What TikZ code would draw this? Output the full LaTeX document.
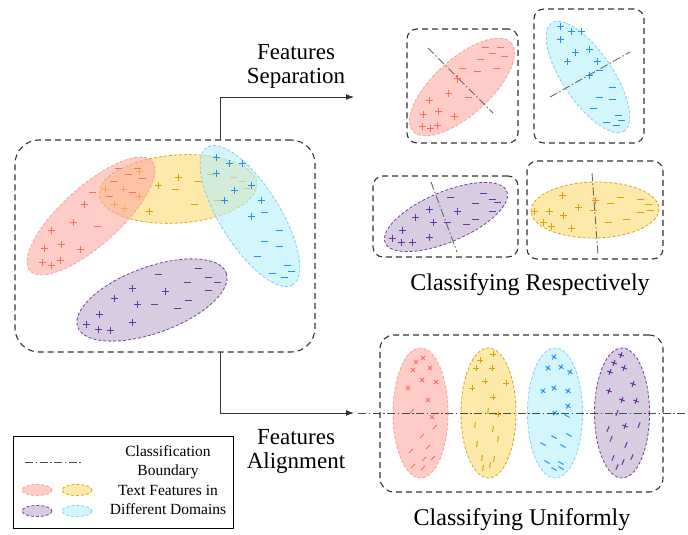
\documentclass[tikz,border=0pt]{standalone}
\usepackage{fontspec}
\setmainfont{Liberation Serif}
\usetikzlibrary{arrows.meta}
\definecolor{rF}{HTML}{FFAAA2}\definecolor{rS}{HTML}{F4A096}\definecolor{rM}{HTML}{FF6A5C}
\definecolor{yF}{HTML}{FCDA70}\definecolor{yS}{HTML}{D9A21A}\definecolor{yM}{HTML}{DDA000}
\definecolor{cF}{HTML}{B6EEFA}\definecolor{cS}{HTML}{80CFF0}\definecolor{cM}{HTML}{1E90EE}
\definecolor{pF}{HTML}{BEAACB}\definecolor{pS}{HTML}{7A3A9A}\definecolor{pM}{HTML}{7030A0}
\definecolor{boxC}{HTML}{333333}
\begin{document}
\begin{tikzpicture}[x=1pt,y=-1pt,
  ellbase/.style={fill opacity=.6, dash pattern=on 3pt off 2pt, line width=.8pt},
  ellR/.style={ellbase, fill=rF, draw=rS},
  ellY/.style={ellbase, fill=yF, draw=yS},
  ellC/.style={ellbase, fill=cF, draw=cS},
  ellP/.style={ellbase, fill=pF, draw=pS},
  mkR/.style={color=rM, line width=1pt},
  mkY/.style={color=yM, line width=1pt},
  mkC/.style={color=cM, line width=1pt},
  mkP/.style={color=pM, line width=1pt},
  dbox/.style={draw=boxC, dash pattern=on 6pt off 4pt, line width=1.1pt, inner sep=0pt},
  bnd/.style={draw=black!60, line width=.9pt, dash pattern=on 8pt off 2.5pt on 1.5pt off 2.5pt},
  arr/.style={draw=black!80, line width=1pt, -{Latex[length=8pt,width=6pt]}},
  ttl/.style={font=\fontsize{23}{24}\selectfont, align=center, inner sep=0pt},
  ttlb/.style={font=\fontsize{24}{26}\selectfont, align=center, inner sep=0pt},
  lgtxt/.style={font=\fontsize{15.5}{19}\selectfont, align=center, inner sep=0pt},
  pls/.pic={\draw (-3.5,0)--(3.5,0) (0,-3.5)--(0,3.5);},
  mns/.pic={\draw (-3.5,0)--(3.5,0);},
  spl/.pic={\draw (-3,0)--(3,0) (0,-3)--(0,3);},
  smn/.pic={\draw (-3,0)--(3,0);}
]
\useasboundingbox (0,0) rectangle (688,535);

% ---------- source box ----------
\node[dbox, rounded corners=24pt, minimum width=300, minimum height=212] (src) at (165,246) {};
\path[ellY, rotate around={4:(178,189)}] (178,189) ellipse [x radius=79, y radius=34];
\foreach \p in {(139,171),(105,189),(123,189),(139,196),(114,204),(124,208),(149,211),(158,185),(178,177)} \pic[mkY] at \p {pls};
\foreach \p in {(175,189),(198,181),(194,204),(210,174),(217,200),(233,177),(242,181),(246,188)} \pic[mkY] at \p {mns};
\path[ellR, rotate around={42:(91,216)}] (91,216) ellipse [x radius=82, y radius=29];
\foreach \p in {(84,204),(73,222),(51,230),(61,244),(44,248),(80,249),(42,262),(51,265),(60,260)} \pic[mkR] at \p {pls};
\foreach \p in {(118,168),(128,174),(137,168),(142,178),(113,181),(109,196),(132,192),(92,192),(97,226)} \pic[mkR] at \p {mns};
\path[ellC, rotate around={-58:(250,216)}] (250,216) ellipse [x radius=81, y radius=30];
\foreach \p in {(216,157),(229,163),(242,163),(216,173),(234,190),(251,185),(224,200),(261,200),(251,216)} \pic[mkC] at \p {pls};
\foreach \p in {(264,212),(279,230),(264,241),(279,246),(257,256),(287,265),(272,273),(284,277),(291,271)} \pic[mkC] at \p {mns};
\path[ellP, rotate around={20:(152,300)}] (152,300) ellipse [x radius=79, y radius=33];
\foreach \p in {(132,288),(114,298),(137,304),(165,291),(99,314),(86,324),(98,329),(110,330),(132,322)} \pic[mkP] at \p {pls};
\foreach \p in {(158,274),(198,268),(208,277),(217,282),(187,282),(208,290),(188,300),(177,308),(154,304)} \pic[mkP] at \p {mns};

% ---------- arrows and labels ----------
\coordinate (sepS) at (220,140);
\coordinate (sepE) at (354,97);
\coordinate (aliS) at (220,352);
\coordinate (aliE) at (354,413);
\draw[arr] (sepS) |- (sepE);
\draw[arr] (aliS) |- (aliE);
\node[ttl] (sepTxt) at (296,66) {Features\\Separation};
\node[ttl] (aliTxt) at (296,451) {Features\\Alignment};

% ---------- separated boxes ----------
\node[dbox, rounded corners=10pt, minimum width=111, minimum height=114] (b1) at (462.5,86) {};
\path[ellR, rotate around={42:(462,87)}] (462,87) ellipse [x radius=66, y radius=28];
\foreach \p in {(457,79),(448,93),(429,100),(438,111),(423,114),(454,116),(422,126),(430,128),(437,125)} \pic[mkR] at \p {pls};
\foreach \p in {(485,48),(500,48),(492,54),(504,57),(480,60),(462,69),(477,72),(496,69),(468,97)} \pic[mkR] at \p {mns};
\coordinate (b1a) at (428,48); \coordinate (b1b) at (493,113);
\draw[bnd] (b1a) -- (b1b);

\node[dbox, rounded corners=10pt, minimum width=110, minimum height=134] (b2) at (589,76) {};
\path[ellC, rotate around={-56:(588,77)}] (588,77) ellipse [x radius=65, y radius=25];
\foreach \p in {(560,27),(571,32),(581,32),(560,40),(575,53),(589,50),(567,62),(597,62),(589,76)} \pic[mkC] at \p {pls};
\foreach \p in {(599,71),(612,87),(599,97),(612,99),(593,108),(618,115),(621,120),(606,122),(616,125)} \pic[mkC] at \p {mns};
\coordinate (b2a) at (550,97); \coordinate (b2b) at (630,52);
\draw[bnd] (b2a) -- (b2b);

\node[dbox, rounded corners=10pt, minimum width=145, minimum height=81] (b3) at (445.5,216.5) {};
\path[ellP, rotate around={23:(446,217)}] (446,217) ellipse [x radius=66, y radius=25];
\foreach \p in {(429,209),(457,211),(415,217),(433,222),(402,230),(429,237),(392,238),(401,242),(412,242)} \pic[mkP] at \p {pls};
\foreach \p in {(450,197),(483,193),(492,199),(497,202),(475,203),(492,211),(475,219),(466,224),(447,222)} \pic[mkP] at \p {mns};
\coordinate (b3a) at (431,182); \coordinate (b3b) at (457,252);
\draw[bnd] (b3a) -- (b3b);

\node[dbox, rounded corners=10pt, minimum width=136, minimum height=98] (b4) at (595,210) {};
\path[ellY, rotate around={1:(595,210)}] (595,210) ellipse [x radius=64, y radius=28];
\foreach \p in {(562,195),(534,211),(549,211),(563,215),(578,207),(595,200),(543,222),(551,226),(571,228)} \pic[mkY] at \p {pls};
\foreach \p in {(593,210),(610,203),(620,197),(640,199),(648,204),(640,212),(650,210),(608,222),(626,219)} \pic[mkY] at \p {mns};
\coordinate (b4a) at (592,173); \coordinate (b4b) at (598,255);
\draw[bnd] (b4a) -- (b4b);

\node[ttlb] (resTxt) at (530,285) {Classifying Respectively};

% ---------- aligned box ----------
\node[dbox, rounded corners=14pt, minimum width=283, minimum height=157] (b5) at (521.5,413.5) {};
\path[ellR] (420.5,413) ellipse [x radius=27.5, y radius=65];
\path[ellY] (488.5,413) ellipse [x radius=27.5, y radius=65];
\path[ellC] (555,413) ellipse [x radius=27.5, y radius=65];
\path[ellP] (622,413) ellipse [x radius=27.5, y radius=65];
\foreach \p in {(416,362),(423,358),(413,370),(430,368),(422,380),(436,382),(408,388),(428,400),(432,417)} \pic[mkR, rotate=45] at \p {spl};
\foreach \p in {(412,411),(435,427),(422,436),(428,447),(411,451),(424,459),(433,458),(413,466),(423,468)} \pic[mkR, rotate=45] at \p {smn};
\foreach \p in {(480,360),(493,354),(476,368),(492,368),(485,381),(506,383),(472,388),(493,397),(498,414)} \pic[mkY] at \p {spl};
\foreach \p in {(488,411),(475,425),(493,429),(477,444),(498,439),(482,458),(494,459),(490,465),(483,468)} \pic[mkY, rotate=82] at \p {smn};
\foreach \p in {(554,357),(548,368),(561,367),(570,372),(543,391),(554,388),(568,391),(568,406),(555,413)} \pic[mkC, rotate=-35] at \p {spl};
\foreach \p in {(567,416),(554,437),(569,435),(543,444),(563,446),(547,462),(561,463),(554,469),(561,468)} \pic[mkC, rotate=-30] at \p {smn};
\foreach \p in {(621,355),(614,363),(624,368),(610,372),(633,384),(609,391),(622,400),(636,401),(625,426)} \pic[mkP, rotate=70] at \p {spl};
\foreach \p in {(617,413),(608,429),(639,425),(611,439),(626,445),(613,458),(623,462),(632,457),(617,467)} \pic[mkP, rotate=68] at \p {smn};
\coordinate (alL) at (358,413); \coordinate (alR) at (686,413);
\draw[bnd, draw=black!70] (alL) -- (alR);
\node[ttlb] (uniTxt) at (522,520) {Classifying Uniformly};

% ---------- legend ----------
\node[draw=black, line width=.8pt, inner sep=0pt, minimum width=220, minimum height=92] (lgd) at (123,482) {};
\coordinate (lgA) at (25,462); \coordinate (lgB) at (83,462);
\draw[bnd, draw=black!70, line width=.7pt] (lgA) -- (lgB);
\path[ellR] (37,490) ellipse [x radius=15, y radius=5.5];
\path[ellY] (77,490) ellipse [x radius=15, y radius=5.5];
\path[ellP] (37,511) ellipse [x radius=15, y radius=5.5];
\path[ellC] (77,511) ellipse [x radius=15, y radius=5.5];
\node[lgtxt] (lgT1) at (168,462) {Classification\\Boundary};
\node[lgtxt] (lgT2) at (168,500) {Text Features in\\Different Domains};
\end{tikzpicture}
\end{document}
